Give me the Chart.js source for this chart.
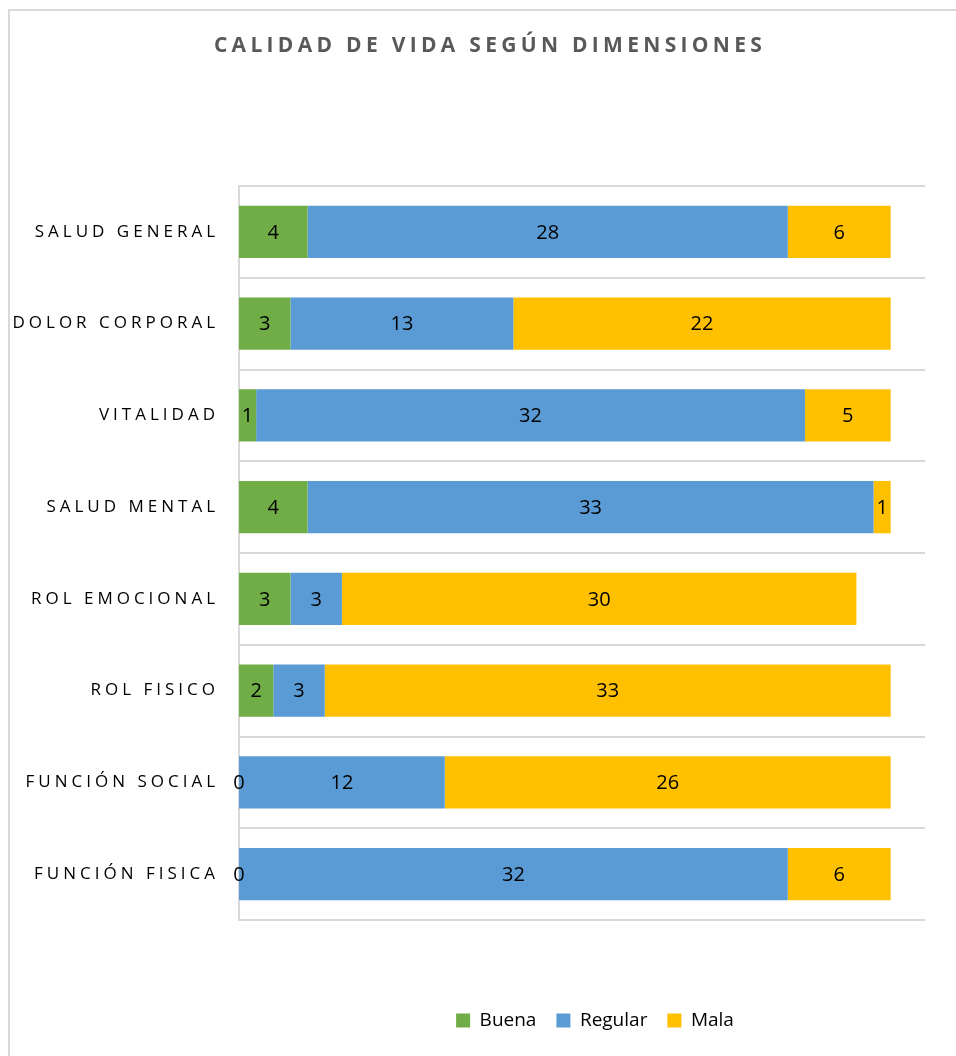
<!DOCTYPE html>
<html>
<head>
<meta charset="utf-8">
<script src="https://cdn.jsdelivr.net/npm/chart.js@4.4.0/dist/chart.umd.min.js"></script>
<style>
  html, body { margin: 0; padding: 0; background: #fff; }
  #wrap { position: relative; width: 956px; height: 1056px; overflow: hidden; }
  #frame { position: absolute; left: 8px; top: 9px; width: 1000px; height: 1100px;
           border-left: 2px solid #d9d9d9; border-top: 2px solid #d9d9d9; }
  canvas { position: absolute; left: 0; top: 0; }
</style>
</head>
<body>
<div id="wrap">
  <div id="frame"></div>
  <canvas id="chart" width="956" height="1056"></canvas>
</div>
<script>
const categories = ['SALUD GENERAL', 'DOLOR CORPORAL', 'VITALIDAD', 'SALUD MENTAL',
  'ROL EMOCIONAL', 'ROL FISICO', 'FUNCIÓN SOCIAL', 'FUNCIÓN FISICA'];
const buena = [4, 3, 1, 4, 3, 2, 0, 0];
const regular = [28, 13, 32, 33, 3, 3, 12, 32];
const mala = [6, 22, 5, 1, 30, 33, 26, 6];

// letter spacing for the axis labels and title (Chart.js has no option for it)
const spacing = {
  id: 'spacing',
  afterUpdate(chart) {
    const sc = chart.scales.y;
    if (sc && !sc._spaced) {
      const orig = sc.drawLabels;
      sc.drawLabels = function (area) {
        this.ctx.save();
        this.ctx.letterSpacing = '4px';
        orig.call(this, area);
        this.ctx.restore();
      };
      sc._spaced = true;
    }
    const t = chart.titleBlock;
    if (t && !t._spaced) {
      const origT = t.draw;
      t.draw = function () {
        this.ctx.save();
        this.ctx.letterSpacing = '4.3px';
        origT.call(this);
        this.ctx.restore();
      };
      t._spaced = true;
    }
    // move the legend under the bars, like the original
    const lg = chart.legend;
    if (lg) {
      const dx = 595 - (lg.left + lg.right) / 2;
      lg.left += dx; lg.right += dx;
      const h = lg.bottom - lg.top;
      lg.top = 991; lg.bottom = 991 + h;
    }
    if (t) {
      const dx = 490 - (t.left + t.right) / 2;
      t.left += dx; t.right += dx;
    }
  }
};

// value labels in the middle of each segment
const valueLabels = {
  id: 'valueLabels',
  afterDatasetsDraw(chart) {
    const ctx = chart.ctx;
    ctx.save();
    ctx.font = '20px "Open Sans"';
    ctx.fillStyle = '#000';
    ctx.textAlign = 'center';
    ctx.textBaseline = 'middle';
    chart.data.datasets.forEach((ds, i) => {
      chart.getDatasetMeta(i).data.forEach((bar, j) => {
        const x = (bar.x + bar.base) / 2;
        ctx.fillText(String(ds.data[j]), x, bar.y + 1);
      });
    });
    ctx.restore();
  }
};

new Chart(document.getElementById('chart'), {
  type: 'bar',
  data: {
    labels: categories,
    datasets: [
      { label: 'Buena', data: buena, backgroundColor: '#70ad47' },
      { label: 'Regular', data: regular, backgroundColor: '#5b9bd5' },
      { label: 'Mala', data: mala, backgroundColor: '#ffc000' }
    ]
  },
  options: {
    indexAxis: 'y',
    responsive: false,
    animation: false,
    devicePixelRatio: 1,
    layout: { padding: { left: 0, right: 31, top: 0, bottom: 87 } },
    datasets: { bar: { categoryPercentage: 1, barPercentage: 0.57 } },
    scales: {
      x: { stacked: true, display: false, min: 0, max: 40 },
      y: {
        stacked: true,
        afterFit: (s) => { s.width = 239; },
        grid: { color: '#d9d9d9', lineWidth: 2, drawTicks: false, offset: true },
        border: { color: '#d9d9d9', width: 2 },
        ticks: { padding: 20, color: '#000', font: { family: 'Open Sans', size: 17 } }
      }
    },
    plugins: {
      title: {
        display: true,
        text: 'CALIDAD DE VIDA SEGÚN DIMENSIONES',
        color: '#595959',
        font: { family: 'Open Sans', size: 21, weight: 'bold' },
        padding: { top: 33, bottom: 127.8 }
      },
      legend: {
        position: 'bottom',
        labels: {
          boxWidth: 14, boxHeight: 14, padding: 20, color: '#000',
          font: { family: 'Open Sans', size: 19 }
        }
      },
      tooltip: { enabled: false }
    }
  },
  plugins: [spacing, valueLabels]
});
</script>
</body>
</html>
